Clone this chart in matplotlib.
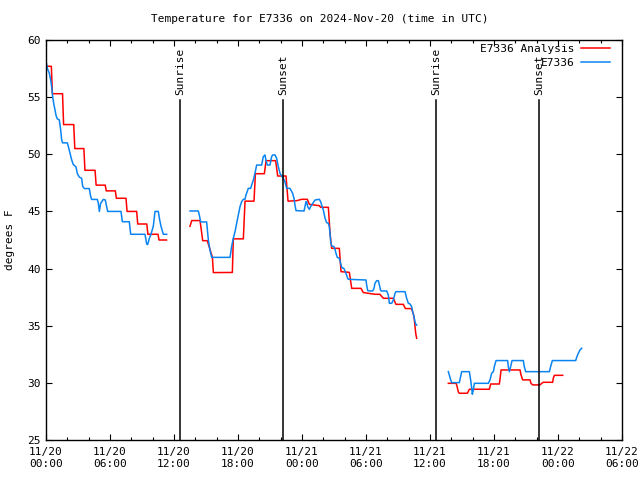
import numpy as np
import matplotlib
matplotlib.use("Agg")
import matplotlib.pyplot as plt
from matplotlib.lines import Line2D

nan = np.nan
# hours since 2024-11-20 00:00 UTC
red_hours = [0.05, 0.5, 0.6, 1.55, 1.65, 2.6, 2.7, 3.55, 3.65, 4.6, 4.7, 5.55, 5.65, 6.5, 6.6, 7.5, 7.6,
             8.5, 8.6, 9.45, 9.55, 10.5, 10.6, 11.3, nan,
             13.5, 13.66, 14.44, 14.6, 14.69, 15.12, 15.6, 15.69, 17.47, 17.56, 18.5, 18.66, 19.5, 19.63,
             20.47, 20.63, 21.53, 21.72, 22.5, 22.69, 23.5, 23.97, 24.5, 24.69, 25.63, 25.75, 26.47, 26.63,
             26.78, 27.5, 27.66, 28.44, 28.66, 29.53, 29.75, 30.84, 31.3, 31.625, 32.56, 32.81, 33.5, 33.69,
             34.28, 34.5, 34.66, 34.75, nan,
             37.72, 38.44, 38.5, 38.66, 38.75, 39.5, 39.59, 39.69, 41.56, 41.69, 42.5, 42.56, 42.66, 44.44,
             44.53, 44.69, 45.375, 45.47, 45.625, 46.31, 46.47, 46.625, 47.5, 47.56, 47.66, 48.44]
red_temps = [57.7, 57.7, 55.3, 55.3, 52.6, 52.6, 50.5, 50.5, 48.6, 48.6, 47.3, 47.3, 46.8, 46.8, 46.15, 46.15, 45.0,
             45.0, 43.9, 43.9, 43.0, 43.0, 42.5, 42.5, nan,
             43.7, 44.2, 44.2, 43.1, 42.44, 42.44, 41.0, 39.65, 39.66, 42.6, 42.6, 45.9, 45.9, 48.3,
             48.3, 49.44, 49.44, 48.1, 48.1, 45.9, 45.94, 46.06, 46.06, 45.62, 45.5, 45.36, 45.36, 43.08,
             41.77, 41.77, 39.73, 39.67, 38.27, 38.27, 37.9, 37.75, 37.75, 37.4, 37.4, 36.87, 36.87, 36.5,
             36.5, 35.8, 34.34, 33.9, nan,
             29.96, 29.96, 29.82, 29.2, 29.09, 29.09, 29.24, 29.44, 29.44, 29.9, 29.9, 30.3, 31.13, 31.13,
             30.7, 30.26, 30.26, 29.96, 29.82, 29.82, 29.96, 30.05, 30.05, 30.4, 30.66, 30.66]

blue_hours = [0.06, 0.13, 0.31, 0.44, 0.53, 0.63, 0.75, 0.84, 0.94, 1.06, 1.25, 1.38, 1.47, 1.56, 2.0, 2.09,
              2.25, 2.41, 2.56, 2.81, 2.94, 3.13, 3.34, 3.44, 3.59, 4.06, 4.19, 4.28, 4.81, 4.91, 5.0, 5.12,
              5.37, 5.56, 5.69, 5.78, 7.03, 7.16, 7.81, 7.94, 9.28, 9.44, 9.53, 9.69, 9.84, 10.06, 10.22,
              10.53, 10.63, 10.78, 11.0, 11.31, nan,
              13.5, 14.28, 14.37, 14.5, 15.06, 15.12, 15.22, 15.37, 15.53, 17.25, 17.31, 17.4, 17.56, 17.72,
              17.87, 18.03, 18.19, 18.34, 18.5, 18.65, 18.75, 18.97, 19.19, 19.28, 19.44, 19.59, 19.75, 20.22,
              20.37, 20.53, 20.62, 20.75, 21.0, 21.15, 21.25, 21.47, 21.62, 21.78, 21.94, 22.09, 22.25, 22.4,
              22.56, 22.87, 23.125, 23.25, 23.34, 23.44, 24.19, 24.28, 24.375, 24.44, 24.53, 24.69, 24.81,
              24.91, 25.06, 25.22, 25.625, 25.75, 25.84, 26.0, 26.16, 26.31, 26.47, 26.56, 26.625, 26.69,
              26.78, 27.0, 27.09, 27.19, 27.31, 27.5, 27.625, 27.72, 27.94, 28.125, 28.25, 28.34, 30.0, 30.06,
              30.16, 30.375, 30.625, 30.75, 30.84, 31.0, 31.16, 31.25, 31.375, 31.47, 31.94, 32.09, 32.19,
              32.41, 32.56, 32.72, 32.81, 33.66, 33.81, 33.97, 34.125, 34.28, 34.375, 34.5, 34.59, 34.69,
              34.75, nan,
              37.72, 37.81, 37.94, 38.03, 38.75, 38.875, 38.97, 39.69, 39.81, 39.91, 39.97, 40.06, 40.16,
              41.47, 41.625, 41.78, 41.94, 42.03, 42.19, 43.28, 43.34, 43.44, 43.56, 43.69, 44.75, 44.84,
              44.97, 47.19, 47.31, 47.47, 49.66, 49.75, 49.91, 50.06, 50.22]
blue_temps = [57.9, 57.5, 57.1, 56.5, 55.9, 55.0, 54.3, 53.9, 53.4, 53.1, 53.0, 52.1, 51.25, 51.0, 51.0, 50.7,
              50.1, 49.5, 49.1, 48.9, 48.3, 48.0, 47.9, 47.2, 47.0, 47.0, 46.3, 46.05, 46.05, 45.7, 45.0, 45.7,
              46.05, 46.0, 45.4, 45.0, 45.0, 44.1, 44.1, 43.0, 43.0, 42.15, 42.1, 42.65, 43.0, 43.7, 45.0,
              45.0, 44.4, 43.7, 43.0, 43.0, nan,
              45.04, 45.04, 44.69, 44.08, 44.08, 43.52, 42.5, 41.63, 40.98, 40.98, 41.33, 41.92, 42.65, 43.23,
              43.96, 44.69, 45.42, 45.85, 46.06, 46.06, 46.44, 47.02, 47.02, 47.31, 47.75, 48.33, 49.06, 49.06,
              49.79, 49.94, 49.5, 49.06, 49.06, 49.79, 49.94, 49.94, 49.65, 48.92, 48.33, 48.1, 47.9, 47.6,
              47.02, 47.02, 46.58, 46.15, 45.56, 45.07, 45.04, 45.42, 45.85, 45.85, 45.42, 45.18, 45.42,
              45.56, 45.77, 46.0, 46.06, 45.85, 45.56, 45.13, 44.4, 44.02, 43.96, 43.67, 43.08, 42.35,
              41.98, 41.92, 41.68, 41.33, 40.98, 40.9, 40.46, 40.11, 39.99, 39.58, 39.23, 39.06, 39.0, 38.56,
              38.07, 38.04, 38.04, 38.27, 38.71, 38.94, 38.94, 38.56, 38.07, 38.04, 38.04, 37.69, 36.96,
              36.96, 37.25, 37.83, 37.98, 37.98, 37.4, 36.96, 36.9, 36.67, 36.23, 35.79, 35.36, 35.06,
              35.06, nan,
              30.98, 30.69, 30.26, 30.02, 30.02, 30.55, 30.98, 30.98, 30.26, 29.53, 29.0, 29.38, 29.96,
              29.96, 30.26, 30.84, 30.98, 31.42, 31.95, 31.95, 31.42, 30.98, 31.42, 31.95, 31.95, 31.42,
              30.98, 30.98, 31.42, 31.95, 31.95, 32.24, 32.59, 32.88, 33.03]

sun_hours = [12.56, 22.22, 36.56, 46.2]
sun_labels = ["Sunrise", "Sunset", "Sunrise", "Sunset"]

xtick_hours = [0, 6, 12, 18, 24, 30, 36, 42, 48, 54]
xtick_labels = ["11/20\n00:00", "11/20\n06:00", "11/20\n12:00", "11/20\n18:00", "11/21\n00:00",
                "11/21\n06:00", "11/21\n12:00", "11/21\n18:00", "11/22\n00:00", "11/22\n06:00"]
ytick_vals = [25, 30, 35, 40, 45, 50, 55, 60]

plt.rcParams['font.family'] = ['DejaVu Sans Mono']
plt.rcParams['font.size'] = 8

fig = plt.figure(figsize=(6.4, 4.8), dpi=100)
ax = fig.add_axes([46/640, 40/480, 576/640, 400/480])

RED = '#ff0000'
BLUE = '#0a84f0'
ax.plot(red_hours, red_temps, color=RED, lw=1.1)
ax.plot(blue_hours, blue_temps, color=BLUE, lw=1.1)

for h, lab in zip(sun_hours, sun_labels):
    ax.plot([h, h], [25, 54.75], color='black', lw=1.1)
    ax.text(h, 55.15, lab, rotation=90, ha='center', va='bottom', fontsize=8)

ax.set_xlim(0, 54)
ax.set_ylim(25, 60)
ax.set_xticks(xtick_hours)
ax.set_xticklabels(xtick_labels)
ax.set_xticks(np.arange(0, 55, 2), minor=True)
ax.set_yticks(ytick_vals)
ax.tick_params(which='both', direction='in', top=True, right=True)
ax.tick_params(which='major', length=4.5, width=0.8, pad=5)
ax.tick_params(which='minor', length=2.5, width=0.8)
ax.tick_params(axis='y', pad=4)
for s in ax.spines.values():
    s.set_linewidth(1.0)

fig.text(0.5, 1 - 19/480, "Temperature for E7336 on 2024-Nov-20 (time in UTC)", ha='center', va='center', fontsize=8)
fig.text(10/640, 0.5, "degrees F", rotation=90, ha='center', va='center', fontsize=8)

# legend
fig.text(575/640, 1 - 49/480, "E7336 Analysis", ha='right', va='center', fontsize=8)
fig.text(575/640, 1 - 63/480, "E7336", ha='right', va='center', fontsize=8)
fig.add_artist(Line2D([581/640, 610/640], [1 - 48/480, 1 - 48/480], color=RED, lw=1.1))
fig.add_artist(Line2D([581/640, 610/640], [1 - 62/480, 1 - 62/480], color=BLUE, lw=1.1))

fig.savefig("out.png", dpi=100)
